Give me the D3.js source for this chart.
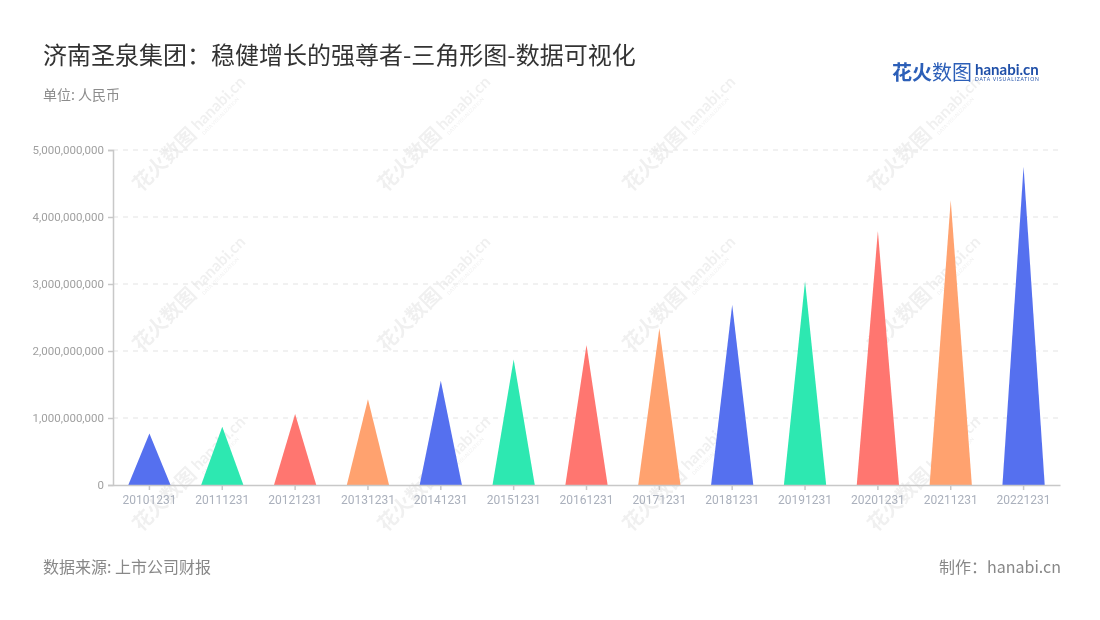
<!DOCTYPE html>
<html><head><meta charset="utf-8">
<script src="https://cdn.jsdelivr.net/npm/d3@7/dist/d3.min.js"></script>
<style>
html,body{margin:0;padding:0;background:#fff;}
svg{display:block;font-family:"Noto Sans CJK SC","Noto Sans",sans-serif;}
</style></head>
<body>
<svg id="chart" width="1100" height="620"></svg>
<script>
const categories = ["20101231","20111231","20121231","20131231","20141231","20151231","20161231","20171231","20181231","20191231","20201231","20211231","20221231"];
const values = [770000000, 870000000, 1060000000, 1280000000, 1555000000, 1875000000, 2090000000, 2340000000, 2690000000, 3040000000, 3790000000, 4250000000, 4750000000];
const yTicks = [0, 1000000000, 2000000000, 3000000000, 4000000000, 5000000000];
const palette = ["#5570ef", "#2de8b1", "#ff7670", "#ffa26f"];
const titleText = "济南圣泉集团：稳健增长的强尊者-三角形图-数据可视化";
const unitText = "单位: 人民币";
const sourceText = "数据来源: 上市公司财报";
const makerText = "制作：hanabi.cn";

const svg = d3.select("#chart");
const margin = {left:113, right:1060, top:150, bottom:485};

// watermarks
const wm = svg.append("g").attr("fill","#000").attr("opacity",0.06);
const wmX = [165, 410, 655, 900];
const wmY = [160, 320, 500];
wmY.forEach(yy=>{
  wmX.forEach(xx=>{
    const g = wm.append("g").attr("transform",`translate(${xx},${yy}) rotate(-45)`);
    g.append("text").attr("x",-40).attr("y",6).attr("font-size",20).attr("font-weight","bold").text("花火数图");
    g.append("text").attr("x",44).attr("y",3).attr("font-size",16).attr("font-weight","bold").attr("font-family","Lato, sans-serif").text("hanabi.cn");
    g.append("text").attr("x",45).attr("y",10).attr("font-size",5).attr("font-family","Lato, sans-serif").text("DATA VISUALIZATION");
  });
});

const x = d3.scaleBand().domain(categories).range([margin.left, margin.right]).padding(0);
const y = d3.scaleLinear().domain([0, 5000000000]).range([margin.bottom, margin.top]);

// grid
svg.append("g").selectAll("line").data(yTicks.filter(d=>d>0)).join("line")
  .attr("x1", margin.left).attr("x2", margin.right)
  .attr("y1", d=>y(d)).attr("y2", d=>y(d))
  .attr("stroke","#e3e3e3").attr("stroke-width",1.2).attr("stroke-dasharray","5,5");

// y axis
const yAxis = d3.axisLeft(y).tickValues(yTicks).tickSize(5).tickPadding(4).tickFormat(d3.format(","));
const yg = svg.append("g").attr("transform",`translate(${margin.left},0)`).call(yAxis);
yg.select(".domain").attr("stroke","#c8c8c8").attr("stroke-width",1.5);
yg.selectAll(".tick line").attr("stroke","#c8c8c8").attr("stroke-width",1.5);
yg.selectAll(".tick text").attr("fill","#a0a0a0").attr("font-size",11.5).attr("font-family","Roboto, sans-serif");

// triangles
const bw = x.bandwidth()*0.58;
svg.append("g").selectAll("path").data(categories).join("path")
  .attr("d",(c,i)=>{
    const cx = x(c)+x.bandwidth()/2;
    return `M${cx-bw/2},${y(0)}L${cx},${y(values[i])}L${cx+bw/2},${y(0)}Z`;
  })
  .attr("fill",(c,i)=>palette[i%palette.length]);

// x axis
const xAxis = d3.axisBottom(x).tickSize(5).tickPadding(5).tickSizeOuter(0);
const xg = svg.append("g").attr("transform",`translate(0,${margin.bottom})`).call(xAxis);
xg.select(".domain").attr("stroke","#c8c8c8").attr("stroke-width",1.5);
xg.selectAll(".tick line").attr("stroke","#c8c8c8").attr("stroke-width",1.5);
xg.selectAll(".tick text").attr("fill","#aab0bc").attr("font-size",12).attr("font-family","Roboto, sans-serif");

// titles
svg.append("text").attr("x",43).attr("y",64).attr("font-size",24).attr("fill","#333").text(titleText);
svg.append("text").attr("x",43).attr("y",100).attr("font-size",14).attr("fill","#8c8c8c").text(unitText);
svg.append("text").attr("x",43).attr("y",573).attr("font-size",16).attr("fill","#888").text(sourceText);
svg.append("text").attr("x",1061).attr("y",573).attr("text-anchor","end").attr("font-size",16).attr("fill","#888").text(makerText);

// logo
const logo = svg.append("g");
logo.append("text").attr("x",892).attr("y",80).attr("font-size",20).attr("font-weight","bold").attr("fill","#2c5fb8").text("花火");
logo.append("text").attr("x",932).attr("y",80).attr("font-size",20).attr("fill","#2c5fb8").text("数图");
logo.append("text").attr("x",975).attr("y",75).attr("font-size",15).attr("font-weight","bold").attr("fill","#1f4fa8").attr("font-family","Lato, sans-serif").text("hanabi.cn");
logo.append("text").attr("x",975).attr("y",81).attr("font-size",5).attr("fill","#1f4fa8").attr("font-family","Lato, sans-serif").attr("letter-spacing",0.8).text("DATA VISUALIZATION");
</script>
</body></html>
